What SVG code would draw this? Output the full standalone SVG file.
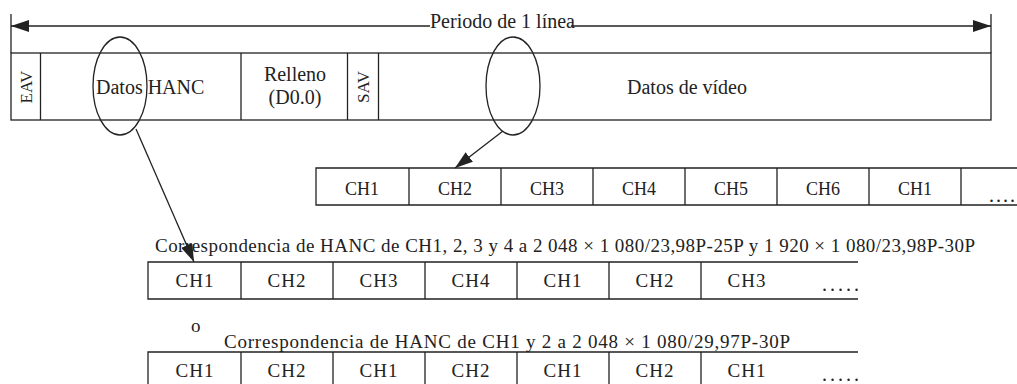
<svg xmlns="http://www.w3.org/2000/svg" width="1017" height="384" viewBox="0 0 1017 384">
<style>
.ln{stroke:#222;stroke-width:1.3;fill:none}
.t{font-family:"Liberation Serif","Times New Roman",serif;font-size:20px;fill:#222}
.c{font-family:"Liberation Serif","Times New Roman",serif;font-size:20px;fill:#222;text-anchor:middle}
.r1{font-family:"Liberation Serif","Times New Roman",serif;font-size:18px;fill:#222;text-anchor:middle}
.r2{font-family:"Liberation Serif","Times New Roman",serif;font-size:19px;fill:#222;text-anchor:middle;letter-spacing:1px}
.v{font-family:"Liberation Serif","Times New Roman",serif;font-size:17px;fill:#222;text-anchor:middle}
.cap{font-family:"Liberation Serif","Times New Roman",serif;font-size:19px;fill:#222}
</style>
<defs>
<marker id="ah" markerUnits="userSpaceOnUse" markerWidth="18" markerHeight="12" refX="18" refY="6" orient="auto">
<path d="M0,0 L18,6 L0,12 z" fill="#222"/>
</marker>
</defs>
<rect width="1017" height="384" fill="#fff"/>
<g id="line-period">
<line class="ln" x1="11" y1="14" x2="11" y2="53"/>
<line class="ln" x1="991" y1="14" x2="991" y2="53"/>
<text class="t" x="430" y="28">Periodo de 1 línea</text>
</g>
<g id="top-frame">
<rect class="ln" x="11" y="53" width="980" height="67"/>
<line class="ln" x1="40.5" y1="53" x2="40.5" y2="120"/>
<line class="ln" x1="241" y1="53" x2="241" y2="120"/>
<line class="ln" x1="347.5" y1="53" x2="347.5" y2="120"/>
<line class="ln" x1="378.5" y1="53" x2="378.5" y2="120"/>
</g>
<g id="eav"><text class="v" transform="translate(32,87) rotate(-90)">EAV</text></g>
<g id="hanc"><text class="t" x="96" y="94">Datos HANC</text></g>
<g id="relleno"><text class="c" x="295" y="81">Relleno</text><text class="c" x="295" y="104">(D0.0)</text></g>
<g id="sav"><text class="v" transform="translate(369,87) rotate(-90)">SAV</text></g>
<g id="video"><text class="c" x="687" y="94">Datos de vídeo</text></g>
<g id="ellipse-hanc"><ellipse class="ln" cx="120" cy="86" rx="27" ry="49"/></g>
<g id="ellipse-video"><ellipse class="ln" cx="513" cy="86" rx="27" ry="49"/></g>
<g id="row1">
<path class="ln" d="M1017,168 H316 V205 H1017"/>
<path class="ln" d="M409,168 V205 M501,168 V205 M593,168 V205 M685,168 V205 M777,168 V205 M869,168 V205 M961,168 V205"/>
<text class="r1" x="362" y="195">CH1</text>
<text class="r1" x="455" y="195">CH2</text>
<text class="r1" x="547" y="195">CH3</text>
<text class="r1" x="639" y="195">CH4</text>
<text class="r1" x="731" y="195">CH5</text>
<text class="r1" x="823" y="195">CH6</text>
<text class="r1" x="915" y="195">CH1</text>
<text class="t" x="989" y="202" textLength="26" lengthAdjust="spacing">....</text>
</g>
<g id="label2"><text class="cap" x="155" y="252" textLength="820" lengthAdjust="spacing">Correspondencia de  HANC de CH1, 2, 3 y 4 a 2 048 × 1 080/23,98P-25P y 1 920 × 1 080/23,98P-30P</text></g>
<g id="row2">
<path class="ln" d="M858,262 H148 V299 H858"/>
<path class="ln" d="M241,262 V299 M333,262 V299 M425,262 V299 M517,262 V299 M609,262 V299 M701,262 V299"/>
<text class="r2" x="195" y="287">CH1</text>
<text class="r2" x="287" y="287">CH2</text>
<text class="r2" x="379" y="287">CH3</text>
<text class="r2" x="471" y="287">CH4</text>
<text class="r2" x="563" y="287">CH1</text>
<text class="r2" x="655" y="287">CH2</text>
<text class="r2" x="747" y="287">CH3</text>
<text class="t" x="822" y="291" textLength="37" lengthAdjust="spacing">.....</text>
</g>
<g id="label-o"><text class="cap" x="191" y="332" font-size="16">o</text></g>
<g id="label3"><text class="cap" x="224" y="348" textLength="566" lengthAdjust="spacing">Correspondencia de  HANC de CH1 y 2 a 2 048 × 1 080/29,97P-30P</text></g>
<g id="row3">
<path class="ln" d="M858,352 H148 V390 M858,390 H148"/>
<path class="ln" d="M241,352 V390 M333,352 V390 M425,352 V390 M517,352 V390 M609,352 V390 M701,352 V390"/>
<text class="r2" x="195" y="377">CH1</text>
<text class="r2" x="287" y="377">CH2</text>
<text class="r2" x="379" y="377">CH1</text>
<text class="r2" x="471" y="377">CH2</text>
<text class="r2" x="563" y="377">CH1</text>
<text class="r2" x="655" y="377">CH2</text>
<text class="r2" x="747" y="377">CH1</text>
<text class="t" x="822" y="381" textLength="37" lengthAdjust="spacing">.....</text>
</g>
<g id="connectors">
<line class="ln" x1="430" y1="26" x2="11" y2="26" marker-end="url(#ah)"/>
<line class="ln" x1="571" y1="26" x2="991" y2="26" marker-end="url(#ah)"/>
<line class="ln" x1="136" y1="129" x2="194" y2="262" marker-end="url(#ah)"/>
<line class="ln" x1="503" y1="131" x2="455" y2="168" marker-end="url(#ah)"/>
</g>
</svg>
